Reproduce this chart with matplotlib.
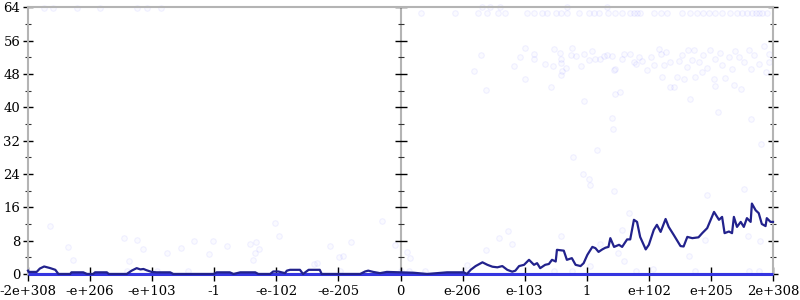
import matplotlib
matplotlib.use("Agg")
import matplotlib.pyplot as plt

# x axis is in "ordinal" units: each major tick is one step
tick_pos = [-6, -5, -4, -3, -2, -1, 0, 1, 2, 3, 4, 5, 6]
tick_labels = ["-2e+308", "-e+206", "-e+103", "-1", "-e-102", "-e-205", "0",
               "e-206", "e-103", "1", "e+102", "e+205", "2e+308"]
y_ticks = [0, 8, 16, 24, 32, 40, 48, 56, 64]
y_minor = [4, 12, 20, 28, 36, 44, 52, 60]

# average error line (dark)
line_x = [-6.0, -5.99, -5.86, -5.81, -5.74, -5.64, -5.56, -5.51, -5.32, -5.3, -5.11, -5.05,
          -4.95, -4.92, -4.73, -4.70, -4.41, -4.33, -4.25, -4.19, -4.14, -4.09, -4.01, -3.93,
          -3.71, -3.66, -3.01, -2.96, -2.75, -2.69, -2.58, -2.34, -2.29, -2.10, -2.05, -1.97,
          -1.86, -1.83, -1.78, -1.62, -1.57, -1.48, -1.30, -1.27, -0.65, -0.57, -0.52, -0.44,
          -0.33, -0.22, 0.0, 0.21, 0.43, 0.75, 1.02, 1.07, 1.13, 1.21, 1.32, 1.40, 1.48, 1.56,
          1.64, 1.72, 1.80, 1.85, 1.91, 1.99, 2.07, 2.15, 2.20, 2.25, 2.33, 2.39, 2.44, 2.50,
          2.52, 2.63, 2.68, 2.76, 2.82, 2.90, 2.95, 3.01, 3.09, 3.14, 3.19, 3.25, 3.30, 3.35,
          3.38, 3.44, 3.52, 3.57, 3.65, 3.70, 3.76, 3.81, 3.86, 3.95, 4.00, 4.08, 4.13, 4.19,
          4.27, 4.32, 4.40, 4.51, 4.56, 4.62, 4.70, 4.80, 4.86, 4.94, 5.05, 5.13, 5.18, 5.22,
          5.29, 5.34, 5.37, 5.42, 5.48, 5.53, 5.58, 5.64, 5.66, 5.72, 5.77, 5.82, 5.88, 5.90,
          5.96, 6.0]
line_y = [0.8, 0.5, 0.5, 1.3, 1.8, 1.4, 1.0, 0.0, 0.0, 0.4, 0.4, 0.0,
          0.0, 0.4, 0.4, 0.0, 0.0, 0.8, 1.4, 1.1, 1.2, 0.9, 0.5, 0.4,
          0.4, 0.0, 0.0, 0.4, 0.4, 0.0, 0.4, 0.4, 0.0, 0.0, 0.6, 0.6,
          0.2, 0.8, 1.0, 1.0, 0.0, 1.0, 1.0, 0.0, 0.0, 0.6, 0.8, 0.5,
          0.2, 0.5, 0.4, 0.3, 0.0, 0.4, 0.4, 0.0, 1.0, 1.9, 2.8, 2.2, 1.75, 1.6,
          1.9, 1.0, 0.55, 0.8, 1.9, 2.2, 3.4, 2.2, 2.6, 1.4, 2.2, 2.4, 3.4, 3.0,
          5.8, 5.6, 3.4, 3.8, 2.2, 1.9, 2.6, 4.6, 6.5, 6.2, 5.3, 5.9, 6.3, 6.5,
          8.6, 6.5, 7.0, 6.5, 8.3, 8.3, 13.0, 12.5, 8.9, 5.9, 7.0, 10.6, 11.8, 10.1,
          13.2, 11.3, 9.4, 6.7, 6.6, 8.9, 8.6, 8.8, 9.8, 11.0, 14.9, 13.0, 13.7, 9.8,
          10.2, 9.8, 13.7, 11.3, 12.5, 11.3, 13.4, 12.5, 16.9, 15.3, 14.6, 12.0, 11.5, 13.4,
          12.5, 12.5]

# faint sample points
pts_x = [-5.75, -5.59, -5.21, -4.84, -4.25, -4.09, -3.85,
         1.31, 1.44, 1.60, 2.68, 3.33,
         0.33, 0.87, 1.25, 1.40, 1.57, 1.69, 2.03, 2.15, 2.28, 2.36, 2.50, 2.58, 2.68, 2.87,
         3.03, 3.11, 3.19, 3.35, 3.46, 3.57, 3.70, 3.76, 3.81, 3.86, 4.08, 4.19, 4.29, 4.54,
         4.67, 4.78, 4.88, 4.97, 5.07, 5.18, 5.31, 5.42, 5.50, 5.58, 5.66, 5.72, 5.77, 5.82, 5.90,
         1.29, 1.19, 1.37, 1.83, 1.92, 2.01, 2.01, 2.15, 2.15, 2.32, 2.42, 2.46, 2.48, 2.57,
         2.58, 2.58, 2.60, 2.58, 2.66, 2.74, 2.77, 2.82, 2.90, 2.95, 2.96, 3.03, 3.08, 3.14,
         3.22, 3.27, 3.33, 3.41, 3.44, 3.46, 3.41, 3.42, 3.45, 3.54, 3.57, 3.60, 3.70, 3.76,
         3.80, 3.84, 3.89, 3.97, 4.03, 4.08, 4.16, 4.19, 4.21, 4.24, 4.27, 4.34, 4.34, 4.41,
         4.46, 4.48, 4.54, 4.57, 4.61, 4.63, 4.67, 4.70, 4.73, 4.75, 4.80, 4.86, 4.88, 4.93,
         4.99, 5.05, 5.07, 5.07, 5.11, 5.15, 5.18, 5.23, 5.29, 5.34, 5.37, 5.39, 5.45, 5.48,
         5.53, 5.61, 5.64, 5.64, 5.69, 5.77, 5.80, 5.85, 5.88, 5.93, 5.93,
         2.78, 2.94, 3.04, 3.05, 3.17, 3.44, 3.56, 3.68, 3.60, 3.22, 3.50, 3.80, 4.07, 4.65,
         4.75, 4.93, 4.90, 5.53, 5.59, 5.79, 5.77, 5.61, 0.10, 0.16, 1.58, 1.73, 1.37, 2.59,
         1.07, 3.06, 2.47, 2.76, 0.13, 0.40, 1.02, 1.79,
         -5.64, -5.36, -5.28, -4.45, -4.38, -4.24, -4.15, -3.76, -3.54, -3.33, -3.09, -3.02,
         -2.80, -2.42, -2.38, -2.34, -2.32, -2.28, -2.02, -1.96, -1.40, -1.35, -1.14, -0.99,
         -0.92, -0.80, -0.29, -0.09, -4.40, -3.92, -3.43, -0.98, 0.0]
pts_y = [63.8, 63.8, 63.8, 63.8, 63.8, 63.8, 63.8,
         64.0, 64.0, 64.0, 64.0, 64.0,
         62.7, 62.7, 62.7, 62.7, 62.7, 62.7, 62.7, 62.7, 62.7, 62.7, 62.7, 62.7, 62.7, 62.7,
         62.7, 62.7, 62.7, 62.7, 62.7, 62.7, 62.7, 62.7, 62.7, 62.7, 62.7, 62.7, 62.7, 62.7,
         62.7, 62.7, 62.7, 62.7, 62.7, 62.7, 62.7, 62.7, 62.7, 62.7, 62.7, 62.7, 62.7, 62.7, 62.7,
         52.5, 48.7, 44.1, 49.9, 52.0, 54.3, 46.7, 52.9, 51.5, 50.5, 44.9, 50.0, 54.0, 53.1,
         51.5, 50.6, 48.8, 47.8, 49.5, 52.5, 54.3, 52.3, 50.0, 52.7, 41.5, 51.3, 53.5, 51.5,
         51.5, 52.3, 52.5, 52.3, 49.0, 49.3, 37.5, 34.8, 43.3, 43.6, 51.7, 52.9, 52.9, 50.9,
         50.3, 52.1, 51.2, 49.0, 52.0, 50.1, 54.1, 52.9, 47.2, 50.1, 53.3, 50.9, 44.9, 44.8,
         47.3, 51.2, 52.5, 46.7, 49.7, 53.7, 41.9, 51.3, 53.7, 47.3, 50.9, 48.5, 52.5, 49.5,
         53.7, 46.8, 51.5, 45.2, 38.9, 53.1, 50.1, 47.0, 52.1, 49.3, 45.3, 53.5, 52.1, 44.5,
         50.9, 53.7, 49.3, 37.3, 52.5, 50.5, 31.2, 54.7, 48.5, 52.9, 50.9,
         28.0, 24.0, 22.7, 21.3, 29.7, 20.0, 10.6, 14.7, 3.2, 7.2, 5.1, 0.8, 1.1, 4.3,
         0.8, 18.9, 8.2, 20.3, 9.0, 7.8, 0.8, 0.8, 5.3, 3.9, 8.7, 10.2, 5.7, 9.1,
         2.2, 1.8, 0.8, 0.8, 0.8, 0.8, 0.8, 7.2,
         11.5, 6.4, 3.4, 8.6, 3.0, 8.1, 6.1, 5.1, 6.2, 7.8, 4.8, 7.8,
         6.7, 7.2, 3.4, 5.1, 7.7, 6.1, 12.2, 9.1, 2.4, 2.6, 6.6, 4.0,
         4.3, 7.7, 12.6, 7.0, 0.8, 0.8, 0.8, 0.8, 0.8]

# zero-error band spans the full range
zero_x = [-6, 6]
zero_y = [0, 0]

plt.rcParams['font.family'] = 'DejaVu Serif'
fig = plt.figure(figsize=(8, 3), dpi=100)
ax = fig.add_axes([0.035, 0.0867, 0.93125, 0.889])

gray = '#b4b4b4'

ax.scatter(pts_x, pts_y, s=16, facecolor=(0, 0, 1, 0.02), edgecolor=(0, 0, 1, 0.055),
           linewidth=0.8, clip_on=False, zorder=2)
ax.plot(zero_x, zero_y, color='#3535e0', lw=2.2, solid_capstyle='butt', clip_on=False, zorder=3)
ax.plot(line_x, line_y, color='#22228c', lw=1.6, clip_on=False, zorder=4)

# middle axis at zero
ax.axvline(0, color=gray, lw=1.5, zorder=1)
ax.plot([0] * len(y_ticks), y_ticks, linestyle='none', marker='_', ms=9, mew=1.0,
        color='black', clip_on=False, zorder=1)
ax.plot([0] * len(y_minor), y_minor, linestyle='none', marker='_', ms=5, mew=0.8,
        color='#333333', clip_on=False, zorder=1)

ax.set_xlim(-6, 6)
ax.set_ylim(0, 64)
ax.set_xticks(tick_pos)
ax.set_xticklabels(tick_labels)
ax.set_yticks(y_ticks)
ax.set_yticks(y_minor, minor=True)

for side in ['left', 'right', 'top', 'bottom']:
    ax.spines[side].set_color(gray)
    ax.spines[side].set_linewidth(1.5)

ax.tick_params(axis='both', which='major', direction='inout', length=7, width=1.0,
               color='black', labelsize=9.5, pad=2)
ax.tick_params(axis='y', which='both', right=True)
ax.tick_params(axis='y', which='minor', direction='inout', length=4, width=0.8, color='#333333')
ax.tick_params(axis='x', which='major', length=10, pad=3)

fig.savefig('out.png', dpi=100)
